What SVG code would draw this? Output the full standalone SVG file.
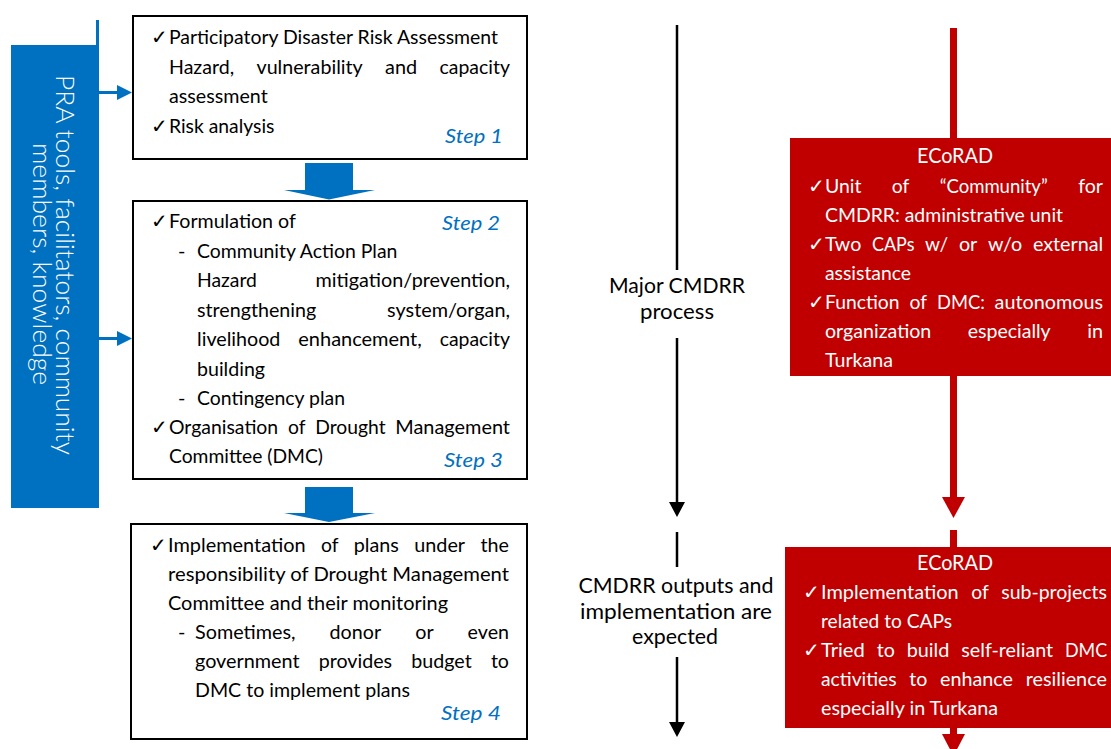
<svg xmlns="http://www.w3.org/2000/svg" width="1111" height="749" viewBox="0 0 1111 749">
<style>
.t{font-family:Lato,"Liberation Sans",sans-serif;font-size:20px;fill:#000}
.wt{fill:#fff}
.ck{font-family:"DejaVu Sans",sans-serif;font-size:20px}
.st{font-family:Lato,"Liberation Sans",sans-serif;font-size:20px;font-style:italic;fill:#0070C0}
.box{fill:#fff;stroke:#000;stroke-width:2}
.rbox{fill:#C00000}
.mid{font-size:22px;text-anchor:middle}
.blk{stroke:#000;stroke-width:2.5;fill:none}
.bl{fill:#0070C0}
.rd{fill:#C00000}
.bar{font-family:Lato,"Liberation Sans",sans-serif;font-size:25px;font-weight:300;fill:#fff;text-anchor:middle}
.hd{font-size:22px;text-anchor:middle}
</style>
<rect width="1111" height="749" fill="#fff"/>
<g id="connectors">
  <line class="blk" x1="677" y1="25" x2="677" y2="270"/>
  <line class="blk" x1="677" y1="338" x2="677" y2="504"/>
  <polygon points="669,502 685,502 677,517" fill="#000"/>
  <line class="blk" x1="677" y1="532" x2="677" y2="567"/>
  <line class="blk" x1="677" y1="657" x2="677" y2="724"/>
  <polygon points="669,722 685,722 677,737" fill="#000"/>
  <text class="t mid" x="677" y="293" textLength="136" lengthAdjust="spacingAndGlyphs">Major CMDRR</text>
  <text class="t mid" x="677" y="319" textLength="74" lengthAdjust="spacingAndGlyphs">process</text>
  <text class="t mid" x="676" y="593" textLength="195" lengthAdjust="spacingAndGlyphs">CMDRR outputs and</text>
  <text class="t mid" x="676" y="618.5" textLength="192" lengthAdjust="spacingAndGlyphs">implementation are</text>
  <text class="t mid" x="675" y="644" textLength="86" lengthAdjust="spacingAndGlyphs">expected</text>
  <rect class="rd" x="950" y="28" width="7" height="470"/>
  <polygon class="rd" points="942,497 965,497 953.5,518"/>
  <rect class="rd" x="950" y="530" width="7" height="18"/>
  <rect class="rd" x="950" y="727" width="7" height="8"/>
  <polygon class="rd" points="942,734 965,734 953.5,756"/>
  <rect class="bl" x="96" y="20" width="3" height="26"/>
  <rect class="bl" x="98" y="91" width="20" height="3"/>
  <polygon class="bl" points="117,85 117,100 132,92.5"/>
  <rect class="bl" x="98" y="337" width="20" height="3"/>
  <polygon class="bl" points="117,331 117,346 132,338.5"/>
  <polygon class="bl" points="305,163 353,163 353,190 375,190 329,199.5 284,190 305,190"/>
  <polygon class="bl" points="305,487 353,487 353,513 375,513 329,522 284,513 305,513"/>
</g>
<g id="pra-bar">
  <rect class="bl" x="11" y="45" width="88" height="463"/>
  <text class="bar" transform="translate(56,265) rotate(90)" textLength="380" lengthAdjust="spacingAndGlyphs">PRA tools, facilitators, community</text>
  <text class="bar" transform="translate(33,264) rotate(90)" textLength="242" lengthAdjust="spacingAndGlyphs">members, knowledge</text>
</g>
<g id="step1">
  <rect class="box" x="133" y="16" width="394" height="143"/>
  <text class="ck" x="151" y="44">✓</text>
  <text class="t" x="169" y="44" textLength="329" lengthAdjust="spacingAndGlyphs">Participatory Disaster Risk Assessment</text>
  <text class="t" x="169" y="73.5" textLength="65.1" lengthAdjust="spacingAndGlyphs">Hazard,</text>
  <text class="t" x="256.5" y="73.5" textLength="106.2" lengthAdjust="spacingAndGlyphs">vulnerability</text>
  <text class="t" x="385.1" y="73.5" textLength="32.1" lengthAdjust="spacingAndGlyphs">and</text>
  <text class="t" x="439.6" y="73.5" textLength="70.3" lengthAdjust="spacingAndGlyphs">capacity</text>
  <text class="t" x="169" y="103" textLength="98.7" lengthAdjust="spacingAndGlyphs">assessment</text>
  <text class="ck" x="151" y="132.5">✓</text>
  <text class="t" x="169" y="132.5" textLength="105.4" lengthAdjust="spacingAndGlyphs">Risk analysis</text>
  <text class="st" x="445" y="143" textLength="58" lengthAdjust="spacingAndGlyphs">Step 1</text>
</g>
<g id="step2-3">
  <rect class="box" x="133" y="201" width="394" height="278"/>
  <text class="ck" x="151" y="228">✓</text>
  <text class="t" x="169" y="228" textLength="126.9" lengthAdjust="spacingAndGlyphs">Formulation of</text>
  <text class="st" x="442" y="230" textLength="58" lengthAdjust="spacingAndGlyphs">Step 2</text>
  <text class="t" x="178" y="257.5">-</text>
  <text class="t" x="197" y="257.5" textLength="200.4" lengthAdjust="spacingAndGlyphs">Community Action Plan</text>
  <text class="t" x="197" y="287" textLength="59.9" lengthAdjust="spacingAndGlyphs">Hazard</text>
  <text class="t" x="315.6" y="287" textLength="194.4" lengthAdjust="spacingAndGlyphs">mitigation/prevention,</text>
  <text class="t" x="197" y="316.5" textLength="119.2" lengthAdjust="spacingAndGlyphs">strengthening</text>
  <text class="t" x="387.1" y="316.5" textLength="122.9" lengthAdjust="spacingAndGlyphs">system/organ,</text>
  <text class="t" x="197" y="346" textLength="83.4" lengthAdjust="spacingAndGlyphs">livelihood</text>
  <text class="t" x="298.3" y="346" textLength="123.5" lengthAdjust="spacingAndGlyphs">enhancement,</text>
  <text class="t" x="439.7" y="346" textLength="70.3" lengthAdjust="spacingAndGlyphs">capacity</text>
  <text class="t" x="197" y="375.5" textLength="68" lengthAdjust="spacingAndGlyphs">building</text>
  <text class="t" x="178" y="404.5">-</text>
  <text class="t" x="197" y="404.5" textLength="148" lengthAdjust="spacingAndGlyphs">Contingency plan</text>
  <text class="ck" x="151" y="433.5">✓</text>
  <text class="t" x="169" y="433.5" textLength="109.2" lengthAdjust="spacingAndGlyphs">Organisation</text>
  <text class="t" x="288" y="433.5" textLength="17.5" lengthAdjust="spacingAndGlyphs">of</text>
  <text class="t" x="315.3" y="433.5" textLength="70.3" lengthAdjust="spacingAndGlyphs">Drought</text>
  <text class="t" x="395.3" y="433.5" textLength="114.7" lengthAdjust="spacingAndGlyphs">Management</text>
  <text class="t" x="169" y="463" textLength="154" lengthAdjust="spacingAndGlyphs">Committee (DMC)</text>
  <text class="st" x="444" y="467" textLength="59" lengthAdjust="spacingAndGlyphs">Step 3</text>
</g>
<g id="step4">
  <rect class="box" x="131" y="524" width="396" height="215"/>
  <text class="ck" x="150" y="552">✓</text>
  <text class="t" x="168" y="552" textLength="137.7" lengthAdjust="spacingAndGlyphs">Implementation</text>
  <text class="t" x="321" y="552" textLength="17.5" lengthAdjust="spacingAndGlyphs">of</text>
  <text class="t" x="353.8" y="552" textLength="45.1" lengthAdjust="spacingAndGlyphs">plans</text>
  <text class="t" x="414.2" y="552" textLength="50.9" lengthAdjust="spacingAndGlyphs">under</text>
  <text class="t" x="480.5" y="552" textLength="28.5" lengthAdjust="spacingAndGlyphs">the</text>
  <text class="t" x="168" y="581" textLength="341" lengthAdjust="spacingAndGlyphs">responsibility of Drought Management</text>
  <text class="t" x="168" y="610" textLength="280" lengthAdjust="spacingAndGlyphs">Committee and their monitoring</text>
  <text class="t" x="178" y="639">-</text>
  <text class="t" x="195" y="639" textLength="100.5" lengthAdjust="spacingAndGlyphs">Sometimes,</text>
  <text class="t" x="329.6" y="639" textLength="51.5" lengthAdjust="spacingAndGlyphs">donor</text>
  <text class="t" x="415.2" y="639" textLength="18.4" lengthAdjust="spacingAndGlyphs">or</text>
  <text class="t" x="467.6" y="639" textLength="41.4" lengthAdjust="spacingAndGlyphs">even</text>
  <text class="t" x="195" y="668" textLength="104.6" lengthAdjust="spacingAndGlyphs">government</text>
  <text class="t" x="318.7" y="668" textLength="73.4" lengthAdjust="spacingAndGlyphs">provides</text>
  <text class="t" x="411.2" y="668" textLength="60.5" lengthAdjust="spacingAndGlyphs">budget</text>
  <text class="t" x="490.9" y="668" textLength="18.1" lengthAdjust="spacingAndGlyphs">to</text>
  <text class="t" x="195" y="697" textLength="215" lengthAdjust="spacingAndGlyphs">DMC to implement plans</text>
  <text class="st" x="441" y="720" textLength="60" lengthAdjust="spacingAndGlyphs">Step 4</text>
</g>
<g id="ecorad-1">
  <rect class="rbox" x="790" y="138" width="321" height="238"/>
  <text class="t wt hd" x="955" y="163" textLength="76" lengthAdjust="spacingAndGlyphs">ECoRAD</text>
  <text class="ck wt" x="808" y="192.7">✓</text>
  <text class="t wt" x="825" y="192.7" textLength="36.4" lengthAdjust="spacingAndGlyphs">Unit</text>
  <text class="t wt" x="891.8" y="192.7" textLength="17.5" lengthAdjust="spacingAndGlyphs">of</text>
  <text class="t wt" x="939.7" y="192.7" textLength="108" lengthAdjust="spacingAndGlyphs">“Community”</text>
  <text class="t wt" x="1078.2" y="192.7" textLength="24.8" lengthAdjust="spacingAndGlyphs">for</text>
  <text class="t wt" x="825" y="221.7" textLength="238" lengthAdjust="spacingAndGlyphs">CMDRR: administrative unit</text>
  <text class="ck wt" x="808" y="250.7">✓</text>
  <text class="t wt" x="825" y="250.7" textLength="36.3" lengthAdjust="spacingAndGlyphs">Two</text>
  <text class="t wt" x="872" y="250.7" textLength="42.4" lengthAdjust="spacingAndGlyphs">CAPs</text>
  <text class="t wt" x="925.1" y="250.7" textLength="23.1" lengthAdjust="spacingAndGlyphs">w/</text>
  <text class="t wt" x="958.9" y="250.7" textLength="18.4" lengthAdjust="spacingAndGlyphs">or</text>
  <text class="t wt" x="988" y="250.7" textLength="34.2" lengthAdjust="spacingAndGlyphs">w/o</text>
  <text class="t wt" x="1032.9" y="250.7" textLength="70.3" lengthAdjust="spacingAndGlyphs">external</text>
  <text class="t wt" x="825" y="279.7" textLength="86" lengthAdjust="spacingAndGlyphs">assistance</text>
  <text class="ck wt" x="808" y="308.7">✓</text>
  <text class="t wt" x="825" y="308.7" textLength="74.5" lengthAdjust="spacingAndGlyphs">Function</text>
  <text class="t wt" x="909.5" y="308.7" textLength="17.5" lengthAdjust="spacingAndGlyphs">of</text>
  <text class="t wt" x="937" y="308.7" textLength="47.7" lengthAdjust="spacingAndGlyphs">DMC:</text>
  <text class="t wt" x="994.6" y="308.7" textLength="108.4" lengthAdjust="spacingAndGlyphs">autonomous</text>
  <text class="t wt" x="825" y="337.7" textLength="106.3" lengthAdjust="spacingAndGlyphs">organization</text>
  <text class="t wt" x="967.7" y="337.7" textLength="83" lengthAdjust="spacingAndGlyphs">especially</text>
  <text class="t wt" x="1087.2" y="337.7" textLength="15.8" lengthAdjust="spacingAndGlyphs">in</text>
  <text class="t wt" x="825" y="366.7" textLength="68" lengthAdjust="spacingAndGlyphs">Turkana</text>
</g>
<g id="ecorad-2">
  <rect class="rbox" x="785" y="547" width="326" height="181"/>
  <text class="t wt hd" x="955" y="570" textLength="76" lengthAdjust="spacingAndGlyphs">ECoRAD</text>
  <text class="ck wt" x="803" y="599.3">✓</text>
  <text class="t wt" x="821" y="599.3" textLength="137.7" lengthAdjust="spacingAndGlyphs">Implementation</text>
  <text class="t wt" x="971.2" y="599.3" textLength="17.5" lengthAdjust="spacingAndGlyphs">of</text>
  <text class="t wt" x="1001.3" y="599.3" textLength="105.7" lengthAdjust="spacingAndGlyphs">sub-projects</text>
  <text class="t wt" x="821" y="628.3" textLength="131" lengthAdjust="spacingAndGlyphs">related to CAPs</text>
  <text class="ck wt" x="803" y="656.7">✓</text>
  <text class="t wt" x="821" y="656.7" textLength="43.8" lengthAdjust="spacingAndGlyphs">Tried</text>
  <text class="t wt" x="876.7" y="656.7" textLength="18.1" lengthAdjust="spacingAndGlyphs">to</text>
  <text class="t wt" x="906.7" y="656.7" textLength="42.7" lengthAdjust="spacingAndGlyphs">build</text>
  <text class="t wt" x="961.3" y="656.7" textLength="91.8" lengthAdjust="spacingAndGlyphs">self-reliant</text>
  <text class="t wt" x="1065" y="656.7" textLength="42.1" lengthAdjust="spacingAndGlyphs">DMC</text>
  <text class="t wt" x="821" y="686" textLength="75.6" lengthAdjust="spacingAndGlyphs">activities</text>
  <text class="t wt" x="909.3" y="686" textLength="18.1" lengthAdjust="spacingAndGlyphs">to</text>
  <text class="t wt" x="940.1" y="686" textLength="72.9" lengthAdjust="spacingAndGlyphs">enhance</text>
  <text class="t wt" x="1025.7" y="686" textLength="81.2" lengthAdjust="spacingAndGlyphs">resilience</text>
  <text class="t wt" x="821" y="715" textLength="177" lengthAdjust="spacingAndGlyphs">especially in Turkana</text>
</g>
</svg>
